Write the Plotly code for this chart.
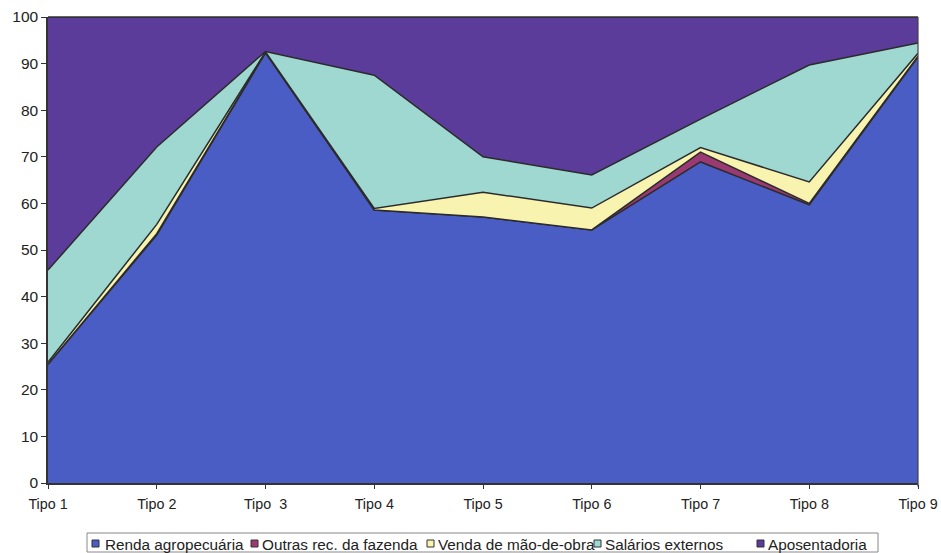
import plotly.graph_objects as go

categorias = ["Tipo 1", "Tipo 2", "Tipo  3", "Tipo 4", "Tipo 5", "Tipo 6", "Tipo 7", "Tipo 8", "Tipo 9"]
renda_agropecuaria = [25.5, 53.2, 92.3, 58.6, 57.1, 54.3, 68.9, 59.7, 91.4]
outras_rec_fazenda = [0.0, 0.3, 0.1, 0.0, 0.0, 0.0, 2.1, 0.3, 0.2]
venda_mao_de_obra = [0.4, 2.0, 0.1, 0.3, 5.3, 4.7, 1.0, 4.6, 0.6]
salarios_externos = [19.8, 16.6, 0.1, 28.6, 7.6, 7.1, 6.1, 25.1, 2.2]
aposentadoria = [54.3, 27.9, 7.4, 12.5, 30.0, 33.9, 21.9, 10.3, 5.6]

nomes = ["Renda agropecuária", "Outras rec. da fazenda", "Venda de mão-de-obra",
         "Salários externos", "Aposentadoria"]
valores = [renda_agropecuaria, outras_rec_fazenda, venda_mao_de_obra,
           salarios_externos, aposentadoria]
cores = ["#4a5dc4", "#9b3a72", "#f8f3ae", "#9ed8d0", "#5b3c9a"]

# figure geometry (body margin removed via post_script)
W, H = 941, 553
ML, MR, MT, MB = 48, 23, 17, 70
PW, PH = W - ML - MR, H - MT - MB

def px(xpage):
    return (xpage - ML) / PW

def py(ypage):
    return (H - MB - ypage) / PH

fig = go.Figure()
for nome, vals, cor in zip(nomes, valores, cores):
    fig.add_trace(go.Scatter(
        x=categorias, y=vals, name=nome, mode="lines",
        stackgroup="one", fillcolor=cor, showlegend=False,
        line=dict(color="#2b2b2b", width=1.5),
    ))

shapes = [
    dict(type="line", xref="paper", yref="paper", x0=0, x1=1, y0=1, y1=1,
         line=dict(color="#333333", width=1.5)),
    dict(type="line", xref="paper", yref="paper", x0=1, x1=1, y0=-0.008, y1=1,
         line=dict(color="#444444", width=1.2)),
    # legend frame
    dict(type="rect", xref="paper", yref="paper", x0=px(87), x1=px(878),
         y0=py(552), y1=py(533), line=dict(color="#888888", width=1),
         fillcolor="white"),
]
annotations = []
# manual legend: swatch left edges and text starts (page px)
swatch_x = [92, 251, 427, 594, 757]
text_x = [103, 260, 436, 603, 766]
for nome, cor, sx, tx in zip(nomes, cores, swatch_x, text_x):
    shapes.append(dict(type="rect", xref="paper", yref="paper",
                       x0=px(sx), x1=px(sx + 7), y0=py(547), y1=py(540),
                       fillcolor=cor, line=dict(color="#333333", width=1)))
    annotations.append(dict(xref="paper", yref="paper", x=px(tx), y=py(544),
                            xanchor="left", yanchor="middle", text=nome,
                            showarrow=False, font=dict(size=15.3, color="#222222")))

fig.update_layout(
    width=W, height=H,
    margin=dict(l=ML, r=MR, t=MT, b=MB),
    paper_bgcolor="white", plot_bgcolor="white",
    font=dict(family="Arial, Liberation Sans, sans-serif", color="#222222", size=14),
    showlegend=False, hovermode=False,
    shapes=shapes, annotations=annotations,
    xaxis=dict(
        type="category", range=[0, 8], showgrid=False, automargin=False,
        ticks="outside", ticklen=4, tickcolor="#333333",
        showline=True, linecolor="#333333", linewidth=1.5,
        tickfont=dict(size=14.3), ticklabelstandoff=3,
    ),
    yaxis=dict(
        range=[0, 100], dtick=10, showgrid=False, automargin=False,
        ticks="outside", ticklen=5, tickcolor="#333333",
        showline=True, linecolor="#333333", linewidth=1.5,
        tickfont=dict(size=15.5),
    ),
)

fig.write_html("out.html", config={"displayModeBar": False},
               post_script="document.body.style.margin='0';document.body.style.overflow='hidden';")
